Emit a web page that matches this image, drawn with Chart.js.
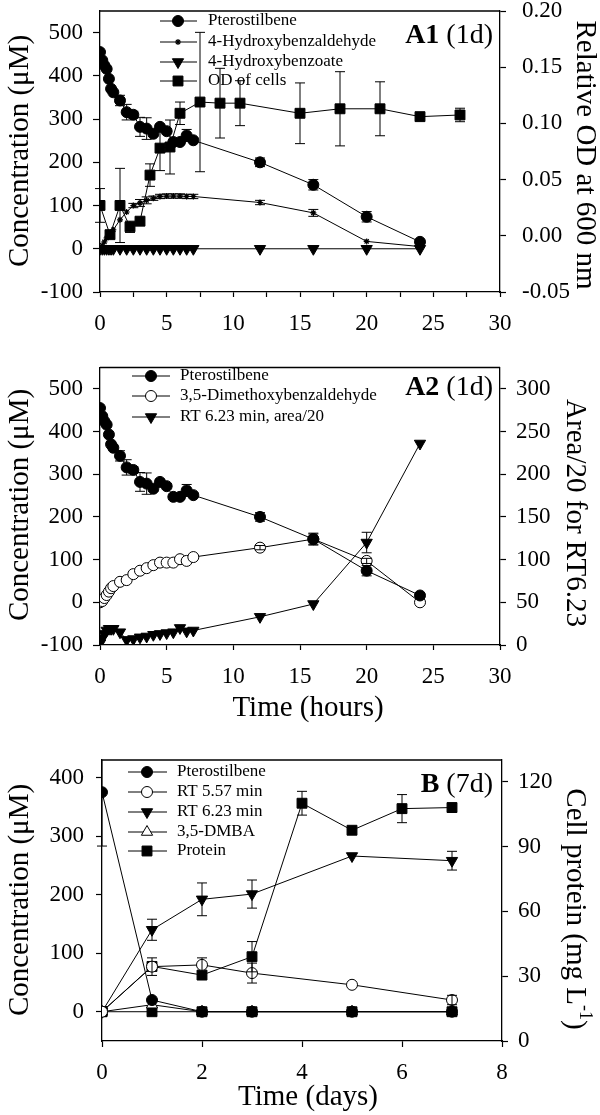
<!DOCTYPE html>
<html><head><meta charset="utf-8">
<script src="https://cdn.jsdelivr.net/npm/chart.js@4"></script>
<style>
html,body{margin:0;padding:0;background:#fff;}
#wrap{position:relative;width:600px;height:1115px;background:#fff;overflow:hidden;}
canvas{position:absolute;left:0;}
</style></head><body>
<div id="wrap">
<canvas id="c1" width="600" height="360" style="top:0px"></canvas>
<canvas id="c2" width="600" height="365" style="top:360px"></canvas>
<canvas id="c3" width="600" height="390" style="top:725px"></canvas>
</div>
<script>
// ---------- DATA ----------
// Panel A1 / A2 (hours)
const tA = [0, 0.17, 0.33, 0.5, 0.67, 0.83, 1, 1.5, 2, 2.5, 3, 3.5, 4, 4.5, 5, 5.5, 6, 6.5, 7, 12, 16, 20, 24];
const pteroA    = [455, 436, 424, 416, 393, 370, 362, 343, 316, 310, 282, 278, 266, 282, 272, 247, 247, 262, 251, 200, 148, 74, 16];
const pteroAErr = [0, 0, 0, 0, 0, 0, 0, 12, 18, 8, 22, 25, 6, 6, 6, 6, 6, 14, 5, 10, 12, 12, 4];
const hbald     = [0, 8, 16, 25, 32, 38, 44, 67, 85, 100, 106, 112, 117, 121, 122, 122, 122, 121, 121, 107, 83, 17, 5];
const hbaldErr  = [0, 0, 0, 0, 0, 0, 0, 0, 0, 5, 8, 8, 5, 5, 5, 5, 5, 5, 5, 5, 8, 0, 0];
const hbzoate   = [0, 0, 0, 0, 0, 0, 0, 0, 0, 0, 0, 0, 0, 0, 0, 0, 0, 0, 0, 0, 0, 0, 0];
const tOD  = [0, 0.75, 1.5, 2.25, 3, 3.75, 4.5, 5.25, 6, 7.5, 9, 10.5, 15, 18, 21, 24, 27];
const odCells = [0.027, 0.001, 0.027, 0.008, 0.013, 0.054, 0.078, 0.079, 0.109, 0.119, 0.118, 0.118, 0.109, 0.113, 0.113, 0.106, 0.1075];
const odErr   = [0.015, 0, 0.033, 0.005, 0, 0.01, 0.02, 0.024, 0.01, 0.062, 0.031, 0.02, 0.027, 0.033, 0.024, 0, 0.006];
const dmbald    = [0, 3, 10, 17, 25, 33, 38, 48, 52, 66, 74, 80, 87, 93, 93, 93, 101, 97, 106, 128, 148, 97, 0];
const dmbaldErr = [0, 0, 0, 0, 0, 0, 0, 0, 0, 0, 0, 0, 0, 0, 0, 0, 0, 0, 0, 5, 14, 6, 0];
const rt623A    = [2, 8, 13, 17, 19, 19, 19, 15, 6, 7, 9, 10, 12, 13, 14, 15, 20, 16, 17, 33, 48, 120, 236];
const rt623AErr = [0, 0, 0, 0, 0, 0, 0, 0, 0, 0, 0, 0, 0, 0, 0, 0, 0, 0, 0, 0, 0, 12, 0];
// Panel B (days)
const tB = [0, 1, 2, 3, 5, 7];
const pteroB    = [375, 20, 0, 0, 0, 0];
const pteroBErr = [92, 0, 0, 0, 0, 0];
const rt557     = [0, 77, 80, 66, 46, 20];
const rt557Err  = [0, 15, 12, 17, 0, 8];
const rt623B    = [0, 140, 192, 201, 266, 258];
const rt623BErr = [0, 18, 28, 24, 0, 16];
const dmba      = [0, 12, 0, 0, 0, 0];
const ctrlB     = [0, 0, 0, 0, 0, 0];
const tP = [0, 1, 2, 3, 4, 5, 6, 7];
const protein    = [13.6, 34.5, 30.5, 39, 110, 97.5, 107.5, 108];
const proteinErr = [0, 0, 0, 7, 5.5, 0, 6.5, 2];
// Tick labels
const xTicksA1 = [0, 2.5, 5, 7.5, 10, 12.5, 15, 17.5, 20, 22.5, 25, 27.5, 30];
const xTicksA2 = [0, 5, 10, 15, 20, 25, 30];
const yTicksConcA = [-100, 0, 100, 200, 300, 400, 500];
const yTicksOD = [-0.05, 0, 0.05, 0.10, 0.15, 0.20];
const yTicksArea = [0, 50, 100, 150, 200, 250, 300];
const xTicksB = [0, 2, 4, 6, 8];
const yTicksConcB = [0, 100, 200, 300, 400];
const yTicksProtein = [0, 30, 60, 90, 120];

// ---------- HELPERS ----------
const FONT = '"Liberation Serif", "Times New Roman", serif';
const ST = {
  fcirc: {ps:'circle', r:5.5, fill:'#000'},
  ocirc: {ps:'circle', r:5.5, fill:'#fff'},
  dtri:  {ps:'triangle', r:6.5, rot:180, fill:'#000'},
  otri:  {ps:'triangle', r:6.5, rot:0, fill:'#fff'},
  sq:    {ps:'rect', r:7, fill:'#000'},
  star:  {ps:'star', r:3, fill:'#000', bw:1.2}
};
function ds(label, xs, ys, errs, st, axis, extra){
  return Object.assign({
    label, data: xs.map((x,i)=>({x, y: ys[i]})), errors: errs,
    borderColor:'#000', borderWidth:1, fill:false, tension:0,
    pointStyle: st.ps, pointRadius: st.r, pointRotation: st.rot||0,
    pointBackgroundColor: st.fill, pointBorderColor:'#000', pointBorderWidth: st.bw||1,
    pointHoverRadius: st.r, yAxisID: axis||'y'
  }, extra||{});
}
function setTicks(list){ return s => { s.ticks = list.map(v=>({value:v})); }; }
function gridOpt(len){ return {display:true, drawOnChartArea:false, drawTicks:true, tickLength:len, tickColor:'#000', tickWidth:1.2}; }
const borderOpt = {display:true, color:'#000', width:1.3};
function yAx(pos, min, max, ticks, width, len, pad, fmt){
  return {type:'linear', position:pos, min, max,
    afterBuildTicks: setTicks(ticks),
    afterFit: s => { s.width = width; s.paddingTop = 0; s.paddingBottom = 0; },
    grid: gridOpt(len), border: borderOpt,
    ticks: {color:'#000', font:{family:FONT, size:23}, padding:pad, autoSkip:false, callback: fmt || (v => String(v))}};
}
function xAx(min, max, ticks, height, len, pad, fmt){
  return {type:'linear', position:'bottom', min, max,
    afterBuildTicks: setTicks(ticks),
    afterFit: s => { s.height = height; s.paddingLeft = 0; s.paddingRight = 0; },
    grid: gridOpt(len), border: borderOpt,
    ticks: {color:'#000', font:{family:FONT, size:23}, padding:pad, autoSkip:false, maxRotation:0, callback: fmt || (v => String(v))}};
}
const errorBars = {id:'errorBars', afterDatasetsDraw(chart){
  const ctx = chart.ctx, a = chart.chartArea;
  ctx.save(); ctx.beginPath(); ctx.rect(0, a.top, chart.width, a.bottom - a.top); ctx.clip();
  ctx.strokeStyle = '#000'; ctx.lineWidth = 1;
  chart.data.datasets.forEach((d, i) => {
    if (!d.errors) return;
    const meta = chart.getDatasetMeta(i);
    const xs = chart.scales[meta.xAxisID], ys = chart.scales[meta.yAxisID];
    d.data.forEach((p, j) => {
      const e = d.errors[j]; if (!e) return;
      const x = xs.getPixelForValue(p.x), y1 = ys.getPixelForValue(p.y + e), y2 = ys.getPixelForValue(p.y - e);
      ctx.beginPath();
      ctx.moveTo(x, y1); ctx.lineTo(x, y2);
      ctx.moveTo(x - 5, y1); ctx.lineTo(x + 5, y1);
      ctx.moveTo(x - 5, y2); ctx.lineTo(x + 5, y2);
      ctx.stroke();
    });
  });
  ctx.restore();
}};
const frame = {id:'frame', afterDraw(chart){
  const ctx = chart.ctx, a = chart.chartArea;
  ctx.save(); ctx.strokeStyle = '#000'; ctx.lineWidth = 1.3;
  ctx.beginPath(); ctx.moveTo(a.left, a.top); ctx.lineTo(a.right, a.top); ctx.stroke(); ctx.restore();
}};
function legendPlugin(cfg){ return {id:'myLegend', afterDraw(chart){
  const ctx = chart.ctx; let k = 0;
  chart.data.datasets.forEach(d => {
    if (d.noLegend) return;
    const y = cfg.ys[k++];
    ctx.save();
    ctx.strokeStyle = '#000'; ctx.lineWidth = 1;
    ctx.beginPath(); ctx.moveTo(cfg.x1, y); ctx.lineTo(cfg.x2, y); ctx.stroke();
    ctx.fillStyle = d.pointBackgroundColor; ctx.lineWidth = d.pointBorderWidth;
    Chart.helpers.drawPoint(ctx, {pointStyle:d.pointStyle, radius:d.pointRadius, rotation:d.pointRotation, borderWidth:d.pointBorderWidth}, cfg.xm, y);
    ctx.fillStyle = '#000'; ctx.font = '17px ' + FONT; ctx.textBaseline = 'middle'; ctx.textAlign = 'left';
    ctx.fillText(d.label, cfg.xt, y);
    ctx.restore();
  });
}};}
function textPlugin(items){ return {id:'texts', afterDraw(chart){
  const ctx = chart.ctx;
  items.forEach(it => {
    ctx.save(); ctx.translate(it.x, it.y); if (it.rot) ctx.rotate(it.rot * Math.PI / 180);
    ctx.fillStyle = '#000'; ctx.textBaseline = it.base || 'middle'; ctx.textAlign = 'left';
    let w = 0;
    it.parts.forEach(p => { ctx.font = p.f + ' ' + FONT; w += ctx.measureText(p.t).width; });
    let x = it.align === 'right' ? -w : (it.align === 'left' ? 0 : -w / 2);
    it.parts.forEach(p => { ctx.font = p.f + ' ' + FONT; ctx.fillText(p.t, x, p.dy || 0); x += ctx.measureText(p.t).width; });
    ctx.restore();
  });
}};}
const baseOpts = (padTop, scales) => ({responsive:false, animation:false, devicePixelRatio:1,
  layout:{padding:{top:padTop, left:0, right:0, bottom:0}},
  plugins:{legend:{display:false}, tooltip:{enabled:false}}, scales});
const T = '29px';
const every5 = v => (Math.abs(v % 5) < 1e-9 ? String(v) : '');

// ---------- A1 ----------
new Chart(document.getElementById('c1'), {
  type:'line',
  data:{datasets:[
    ds('Pterostilbene', tA, pteroA, pteroAErr, ST.fcirc),
    ds('4-Hydroxybenzaldehyde', tA, hbald, hbaldErr, ST.star),
    ds('4-Hydroxybenzoate', tA, hbzoate, null, ST.dtri),
    ds('OD of cells', tOD, odCells, odErr, ST.sq, 'y2')
  ]},
  options: baseOpts(11, {
    x: xAx(0, 30, xTicksA1, 68, 5, 13, every5),
    y: yAx('left', -100, 550, yTicksConcA, 100, 7, 10),
    y2: yAx('right', -0.05, 0.20, yTicksOD, 100, 6, 16, v => v.toFixed(2))
  }),
  plugins:[errorBars, frame,
    legendPlugin({x1:160, x2:197, xm:178, xt:208, ys:[21, 42, 62, 81]}),
    textPlugin([
      {x:20, y:151, rot:-90, parts:[{t:'Concentration (μM)', f:T}]},
      {x:585, y:155, rot:90, parts:[{t:'Relative OD at 600 nm', f:T}]},
      {x:493, y:43, base:'alphabetic', align:'right', parts:[{t:'A1', f:'bold 28px'}, {t:' (1d)', f:'28px'}]}
    ])]
});

// ---------- A2 ----------
new Chart(document.getElementById('c2'), {
  type:'line',
  data:{datasets:[
    ds('Pterostilbene', tA, pteroA, pteroAErr, ST.fcirc),
    ds('3,5-Dimethoxybenzaldehyde', tA, dmbald, dmbaldErr, ST.ocirc),
    ds('RT 6.23 min, area/20', tA, rt623A, rt623AErr, ST.dtri, 'y2')
  ]},
  options: baseOpts(4, {
    x: xAx(0, 30, xTicksA2, 80, 5, 13),
    y: yAx('left', -100, 550, yTicksConcA, 100, 7, 10),
    y2: yAx('right', 0, 325, yTicksArea, 100, 6, 10)
  }),
  plugins:[errorBars, frame,
    legendPlugin({x1:132, x2:170, xm:151, xt:180, ys:[16, 36, 57]}),
    textPlugin([
      {x:20, y:145, rot:-90, parts:[{t:'Concentration (μM)', f:T}]},
      {x:575, y:153, rot:90, parts:[{t:'Area/20 for RT6.23', f:T}]},
      {x:308, y:348, parts:[{t:'Time (hours)', f:T}]},
      {x:493, y:35, base:'alphabetic', align:'right', parts:[{t:'A2', f:'bold 28px'}, {t:' (1d)', f:'28px'}]}
    ])]
});

// ---------- B ----------
new Chart(document.getElementById('c3'), {
  type:'line',
  data:{datasets:[
    ds('Pterostilbene', tB, pteroB, pteroBErr, ST.fcirc),
    ds('RT 5.57 min', tB, rt557, rt557Err, ST.ocirc),
    ds('RT 6.23 min', tB, rt623B, rt623BErr, ST.dtri),
    ds('3,5-DMBA', tB, dmba, null, ST.otri),
    ds('Protein', tP, protein, proteinErr, ST.sq, 'y2'),
    ds('Control', tB, ctrlB, null, ST.sq, 'y', {noLegend:true})
  ]},
  options: baseOpts(35, {
    x: xAx(0, 8, xTicksB, 74, 6, 12),
    y: yAx('left', -50, 430, yTicksConcB, 102, 6, 12),
    y2: yAx('right', 0, 130, yTicksProtein, 98, 6, 10)
  }),
  plugins:[errorBars, frame,
    legendPlugin({x1:128, x2:167, xm:147, xt:177, ys:[47, 67, 87, 107, 126]}),
    textPlugin([
      {x:20, y:175, rot:-90, parts:[{t:'Concentration (μM)', f:T}]},
      {x:575, y:184, rot:90, parts:[{t:'Cell protein (mg L', f:T}, {t:'-1', f:'18px', dy:-10}, {t:')', f:T}]},
      {x:308, y:372, parts:[{t:'Time (days)', f:T}]},
      {x:493, y:67, base:'alphabetic', align:'right', parts:[{t:'B', f:'bold 28px'}, {t:' (7d)', f:'28px'}]}
    ])]
});
</script>
</body></html>
